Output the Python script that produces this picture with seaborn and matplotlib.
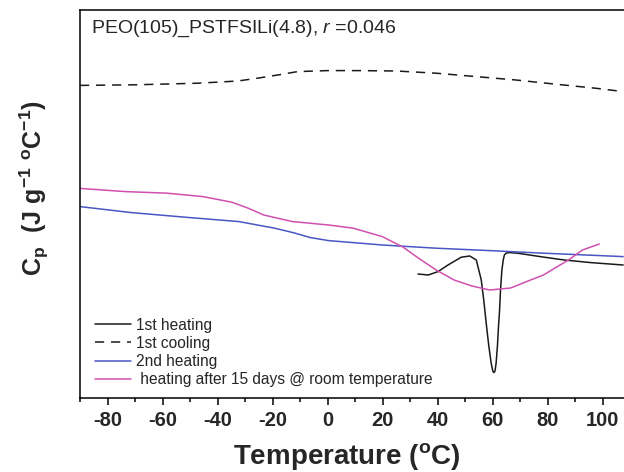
import matplotlib
matplotlib.use("Agg")
import matplotlib.pyplot as plt
import seaborn as sns
import pandas as pd
from matplotlib.ticker import MultipleLocator, NullLocator

# ---------------- data (arbitrary Cp units) ----------------
heat1_T = [32.9, 36.6, 40.2, 43.8, 48.6, 51.7, 54.1, 55.9, 56.8, 57.7, 58.6, 59.5, 60.1, 60.5,
           60.9, 61.3, 61.8, 62.2, 62.5, 62.9, 63.4, 63.9, 64.3, 65.0, 66.1, 69.1, 78.8, 86.1, 95.7, 107.5]
heat1_cp = [1.620, 1.615, 1.632, 1.665, 1.704, 1.710, 1.690, 1.590, 1.490, 1.374, 1.265, 1.174, 1.135, 1.127,
            1.135, 1.174, 1.265, 1.365, 1.424, 1.540, 1.640, 1.690, 1.715, 1.725, 1.727, 1.724, 1.704, 1.690, 1.677, 1.665]

cool1_T = [-90, -70, -47, -32.6, -25, -18.1, -10.9, 0, 10.7, 25, 39.5, 54, 68.5, 83, 97.4, 107.5]
cool1_cp = [2.563, 2.566, 2.574, 2.585, 2.600, 2.615, 2.632, 2.637, 2.637, 2.635, 2.624, 2.607, 2.590, 2.569, 2.549, 2.532]

heat2_T = [-90, -71.3, -51.8, -32.2, -19.2, -12.0, -6.2, 0.4, 19.9, 39.5, 59, 78.6, 107.5]
heat2_cp = [1.957, 1.927, 1.904, 1.882, 1.849, 1.825, 1.802, 1.787, 1.765, 1.749, 1.737, 1.724, 1.707]

aged_T = [-90, -73.5, -58.3, -45.3, -34.8, -29.0, -23.2, -12.7, 0.4, 9.4, 19.9, 27.5, 33.0, 39.5,
          46.0, 52.5, 59, 66.6, 72.0, 78.5, 87.6, 92.7, 98.8]
aged_cp = [2.048, 2.032, 2.024, 2.007, 1.979, 1.950, 1.915, 1.882, 1.865, 1.849, 1.807, 1.754, 1.700, 1.640,
           1.590, 1.560, 1.540, 1.550, 1.580, 1.615, 1.690, 1.740, 1.770]

labels = ["1st heating", "1st cooling", "2nd heating", " heating after 15 days @ room temperature"]
colors = ["#1a1a1a", "#1a1a1a", "#4a56c4", "#d050b0"]
xticks = [-80, -60, -40, -20, 0, 20, 40, 60, 80, 100]

# ---------------- style ----------------
sns.set_theme(style="ticks")
plt.rcParams["font.family"] = ["Liberation Sans", "DejaVu Sans"]
plt.rcParams["mathtext.fontset"] = "custom"
plt.rcParams["mathtext.rm"] = "Liberation Sans"
plt.rcParams["mathtext.it"] = "Liberation Sans:italic"
plt.rcParams["mathtext.bf"] = "Liberation Sans:bold"

fig = plt.figure(figsize=(6.24, 4.72), dpi=100)
ax = fig.add_axes([80 / 624, (472 - 398) / 472, 1 - 80 / 624, (398 - 10) / 472])

frames = []
for T, cp, lab in [(heat1_T, heat1_cp, labels[0]), (cool1_T, cool1_cp, labels[1]),
                   (heat2_T, heat2_cp, labels[2]), (aged_T, aged_cp, labels[3])]:
    frames.append(pd.DataFrame({"T": T, "cp": cp, "series": lab}))
df = pd.concat(frames, ignore_index=True)

sns.lineplot(data=df, x="T", y="cp", hue="series", style="series",
             hue_order=labels, style_order=labels,
             palette=dict(zip(labels, colors)),
             dashes={labels[0]: "", labels[1]: (6, 4.5), labels[2]: "", labels[3]: ""},
             estimator=None, sort=False, linewidth=1.1, ax=ax)

ax.set_xlim(-90, 107.8)
ax.set_ylim(1.0, 2.94)
ax.xaxis.set_major_locator(MultipleLocator(20))
ax.xaxis.set_minor_locator(MultipleLocator(10))
ax.set_xticks(xticks)
ax.set_xticklabels([str(v) for v in xticks], fontweight="bold", fontsize=14.5)
ax.yaxis.set_major_locator(NullLocator())
ax.tick_params(axis="x", which="major", direction="out", length=5, width=1.1, pad=4, color="black")
ax.tick_params(axis="x", which="minor", direction="out", length=3, width=1.1, color="black")
ax.spines["right"].set_visible(False)
for s in ["left", "top", "bottom"]:
    ax.spines[s].set_linewidth(1.1)
    ax.spines[s].set_color("black")

ax.set_xlabel(r"Temperature ($\mathbf{^o}$C)", fontsize=20, fontweight="bold")
ax.xaxis.set_label_coords((347 - 80) / 544, -0.112)
ax.set_ylabel(r"C$_\mathbf{p}$  (J g$^{\mathbf{-1}}$ $^\mathbf{o}$C$^{\mathbf{-1}}$)",
              fontsize=18, fontweight="bold")
ax.yaxis.set_label_coords(-0.054, (398 - 188) / 388)

fig.text(91 / 624, (472 - 33) / 472, r"PEO(105)_PSTFSILi(4.8), $\mathit{r}$ =0.046",
         fontsize=14, ha="left", va="baseline")

leg = ax.legend(loc="lower left", bbox_to_anchor=(0.008, 0.0), frameon=False, fontsize=11.2,
                handlelength=2.3, handletextpad=0.3, labelspacing=0.2, borderaxespad=0.3)
for h in leg.get_lines():
    h.set_linewidth(1.1)

fig.savefig("out.png", dpi=100)
